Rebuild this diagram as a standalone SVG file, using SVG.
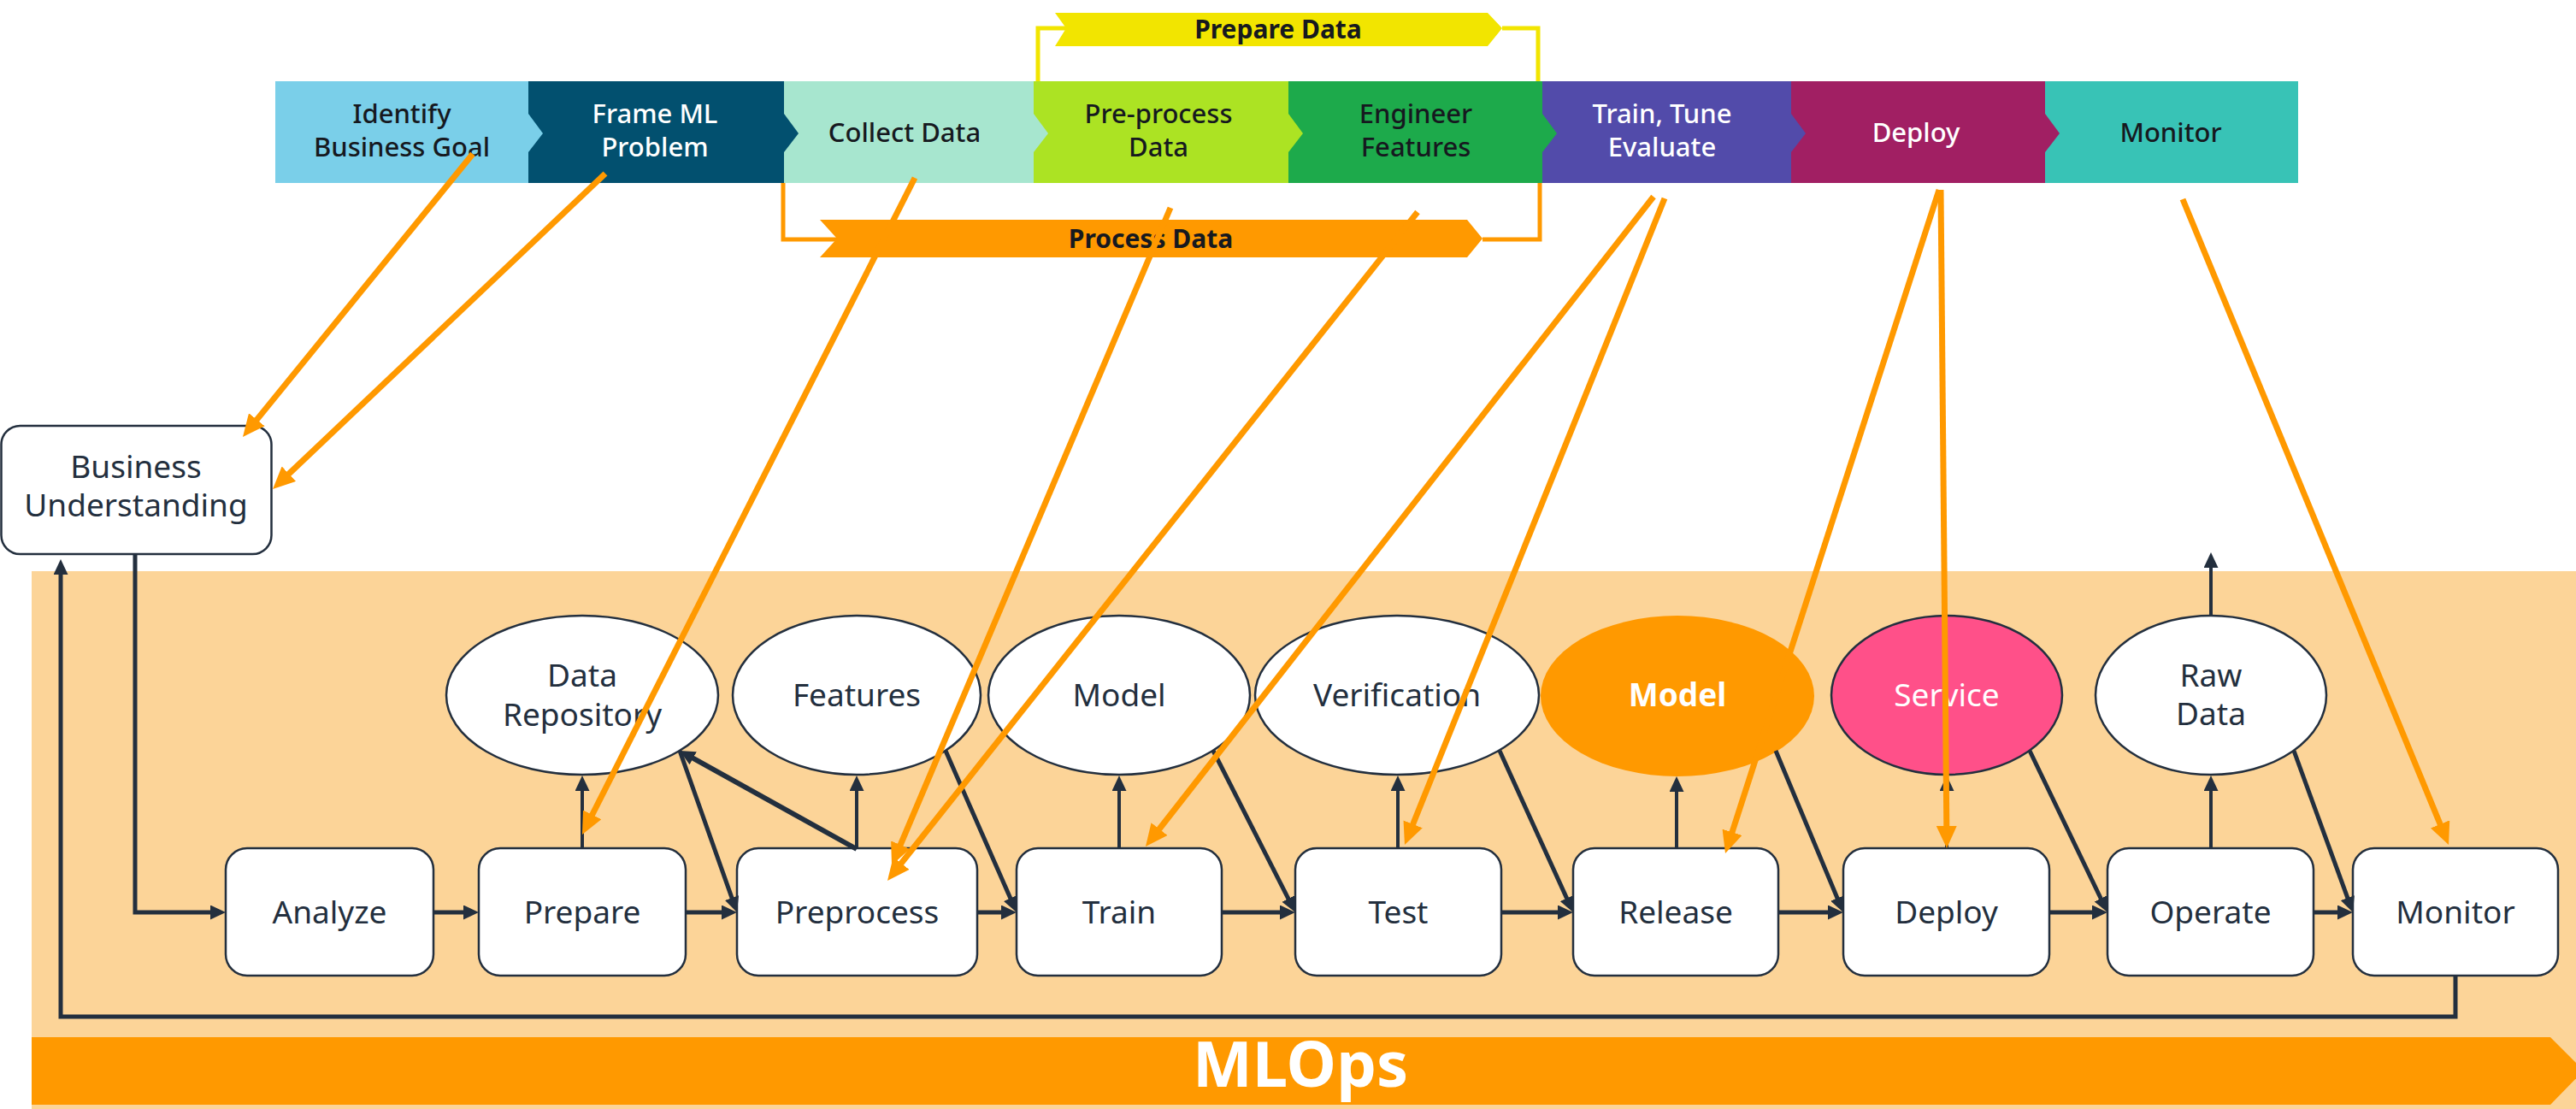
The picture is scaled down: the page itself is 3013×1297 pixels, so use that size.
<svg xmlns="http://www.w3.org/2000/svg" width="3013" height="1297" viewBox="0 0 3013 1297">
<style>
text{font-family:"Noto Sans","Open Sans","Liberation Sans",sans-serif}
.rt{font-size:31px;font-weight:500;text-anchor:middle}
.dk{fill:#16191F}
.wt{fill:#FFFFFF}
.bn{font-size:30px;font-weight:700;text-anchor:middle;fill:#16191F}
.box{fill:#FFFFFF;stroke:#232F3E;stroke-width:2.5}
.ell{fill:#FFFFFF;stroke:#232F3E;stroke-width:2.5}
.lb{font-size:37px;text-anchor:middle;fill:#232F3E}
.c{fill:none;stroke:#232F3E;stroke-width:5;marker-end:url(#ah)}
.cv{fill:none;stroke:#232F3E;stroke-width:4;marker-end:url(#ah)}
.o{fill:none;stroke:#FF9900;stroke-width:7;marker-end:url(#oh)}
</style>
<defs>
<marker id="ah" markerUnits="userSpaceOnUse" markerWidth="18" markerHeight="17" refX="8" refY="8.5" orient="auto"><path d="M0,0 L18,8.5 L0,17 z" fill="#232F3E"/></marker>
<marker id="oh" markerUnits="userSpaceOnUse" markerWidth="26" markerHeight="24" refX="12" refY="12" orient="auto"><path d="M0,0 L26,12 L0,24 z" fill="#FF9900"/></marker>
</defs>
<rect width="3013" height="1297" fill="#FFFFFF"/>

<!-- top ribbon -->
<g id="ribbon">
<rect x="322" y="95" width="296" height="119" fill="#7ACFE9"/>
<rect x="618" y="95" width="299" height="119" fill="#02506F"/>
<rect x="917" y="95" width="292" height="119" fill="#A7E6CF"/>
<rect x="1209" y="95" width="298" height="119" fill="#ACE323"/>
<rect x="1507" y="95" width="297" height="119" fill="#1DAA4B"/>
<rect x="1804" y="95" width="291" height="119" fill="#524BAA"/>
<rect x="2095" y="95" width="297" height="119" fill="#A11F63"/>
<rect x="2392" y="95" width="296" height="119" fill="#38C3B6"/>
<polygon points="618,133 635,156 618,178" fill="#7ACFE9"/>
<polygon points="917,133 934,156 917,178" fill="#02506F"/>
<polygon points="1209,133 1226,156 1209,178" fill="#A7E6CF"/>
<polygon points="1507,133 1524,156 1507,178" fill="#ACE323"/>
<polygon points="1804,133 1821,156 1804,178" fill="#1DAA4B"/>
<polygon points="2095,133 2112,156 2095,178" fill="#524BAA"/>
<polygon points="2392,133 2409,156 2392,178" fill="#A11F63"/>
<text class="rt dk" x="470" y="144">Identify</text>
<text class="rt dk" x="470" y="183">Business Goal</text>
<text class="rt wt" x="766" y="144">Frame ML</text>
<text class="rt wt" x="766" y="183">Problem</text>
<text class="rt dk" x="1058" y="166">Collect Data</text>
<text class="rt dk" x="1355" y="144">Pre-process</text>
<text class="rt dk" x="1355" y="183">Data</text>
<text class="rt dk" x="1656" y="144">Engineer</text>
<text class="rt dk" x="1656" y="183">Features</text>
<text class="rt wt" x="1944" y="144">Train, Tune</text>
<text class="rt wt" x="1944" y="183">Evaluate</text>
<text class="rt wt" x="2241" y="166">Deploy</text>
<text class="rt dk" x="2539" y="166">Monitor</text>
</g>

<g id="prepare-data">
<path d="M1214,95 V33 H1247 M1757,33 H1799 V95" fill="none" stroke="#F2E500" stroke-width="5"/>
<polygon points="1234,15 1740,15 1757,33 1740,54 1234,54 1247,33" fill="#F2E500"/>
<text class="bn" x="1495" y="45">Prepare Data</text>
</g>
<g id="process-data">
<path d="M916,214 V280 H979 M1734,280 H1801 V214" fill="none" stroke="#FF9900" stroke-width="5"/>
<polygon points="959,257 1716,257 1734,279 1716,301 959,301 979,279" fill="#FF9900"/>
<text class="bn" x="1346" y="290">Process Data</text>
</g>

<!-- MLOps band -->
<g id="mlops-band">
<rect x="37" y="668" width="2976" height="629" fill="#FCD498"/>
<polygon points="37,1213 2983,1213 3022,1252 2983,1292 37,1292" fill="#FF9900"/>
<text x="1521" y="1271" font-size="74" font-weight="700" fill="#FFFFFF" text-anchor="middle">MLOps</text>
</g>

<g id="business-understanding">
<rect class="box" x="1.5" y="498" width="316" height="150" rx="22"/>
<text class="lb" x="159" y="559">Business</text>
<text class="lb" x="159" y="604">Understanding</text>
</g>

<!-- process boxes -->
<g id="analyze"><rect class="box" x="264" y="992" width="243" height="149" rx="25"/><text class="lb" x="385.5" y="1080">Analyze</text></g>
<g id="prepare"><rect class="box" x="560" y="992" width="242" height="149" rx="25"/><text class="lb" x="681" y="1080">Prepare</text></g>
<g id="preprocess"><rect class="box" x="862" y="992" width="281" height="149" rx="25"/><text class="lb" x="1002.5" y="1080">Preprocess</text></g>
<g id="train"><rect class="box" x="1189" y="992" width="240" height="149" rx="25"/><text class="lb" x="1309" y="1080">Train</text></g>
<g id="test"><rect class="box" x="1515" y="992" width="241" height="149" rx="25"/><text class="lb" x="1635.5" y="1080">Test</text></g>
<g id="release"><rect class="box" x="1840" y="992" width="240" height="149" rx="25"/><text class="lb" x="1960" y="1080">Release</text></g>
<g id="deploy"><rect class="box" x="2156" y="992" width="241" height="149" rx="25"/><text class="lb" x="2276.5" y="1080">Deploy</text></g>
<g id="operate"><rect class="box" x="2465" y="992" width="241" height="149" rx="25"/><text class="lb" x="2585.5" y="1080">Operate</text></g>
<g id="monitor"><rect class="box" x="2752" y="992" width="240" height="149" rx="25"/><text class="lb" x="2872" y="1080">Monitor</text></g>

<!-- artifacts -->
<g id="data-repository"><ellipse class="ell" cx="681" cy="813" rx="159" ry="93"/><text class="lb" x="681" y="803">Data</text><text class="lb" x="681" y="849">Repository</text></g>
<g id="features"><ellipse class="ell" cx="1002" cy="813" rx="145" ry="93"/><text class="lb" x="1002" y="826">Features</text></g>
<g id="model"><ellipse class="ell" cx="1309" cy="813" rx="153" ry="93"/><text class="lb" x="1309" y="826">Model</text></g>
<g id="verification"><ellipse class="ell" cx="1634" cy="813" rx="166" ry="93"/><text class="lb" x="1634" y="826">Verification</text></g>
<g id="model-release"><ellipse cx="1962" cy="814" rx="160" ry="94" fill="#FF9900"/><text class="lb" x="1962" y="826" fill="#FFFFFF" font-weight="700" style="fill:#FFFFFF">Model</text></g>
<g id="service"><ellipse cx="2277" cy="813" rx="135" ry="93" fill="#FF5089" stroke="#232F3E" stroke-width="2.5"/><text class="lb" x="2277" y="826" style="fill:#FFFFFF">Service</text></g>
<g id="raw-data"><ellipse class="ell" cx="2586" cy="813" rx="135" ry="93"/><text class="lb" x="2586" y="803">Raw</text><text class="lb" x="2586" y="848">Data</text></g>

<!-- connectors -->
<g id="connectors">
<path class="c" d="M158,648 V1067 H254"/>
<path class="c" d="M2872,1141 V1189 H71 V664"/>
<path class="c" d="M507,1067 H550"/>
<path class="c" d="M802,1067 H852"/>
<path class="c" d="M1143,1067 H1179"/>
<path class="c" d="M1429,1067 H1505"/>
<path class="c" d="M1756,1067 H1830"/>
<path class="c" d="M2080,1067 H2146"/>
<path class="c" d="M2397,1067 H2455"/>
<path class="c" d="M2706,1067 H2742"/>
<path class="cv" d="M681,992 V917"/>
<path class="cv" d="M1002,992 V917"/>
<path class="cv" d="M1309,992 V917"/>
<path class="cv" d="M1635,992 V917"/>
<path class="cv" d="M1961,992 V918"/>
<path class="cv" d="M2277,992 V917"/>
<path class="cv" d="M2586,992 V917"/>
<path class="cv" d="M2586,720 V656"/>
<path class="c" d="M795,878 L858.7,1057.6"/>
<path class="c" d="M1106,878 L1185,1057.8"/>
<path class="c" d="M1419,878 L1510.5,1058.1"/>
<path class="c" d="M1754,878 L1835.9,1057.9"/>
<path class="c" d="M2077,878 L2152.1,1057.8"/>
<path class="c" d="M2374,878 L2460.7,1058"/>
<path class="c" d="M2683,878 L2748.6,1057.6"/>
<path class="c" d="M1002,993 L803.7,882.9" style="stroke-width:6"/>
</g>

<g id="lifecycle-mapping">
<path class="o" d="M553,180 L292.8,500.1"/>
<path class="o" d="M708,203 L329.2,562.4"/>
<path class="o" d="M1070,208 L687.3,963.5"/>
<path class="o" d="M1369,243 L1048.5,999.1"/>
<path class="o" d="M1658,248 L1046.7,1019"/>
<path class="o" d="M1934,230 L1348.6,979"/>
<path class="o" d="M1947,232 L1648.2,975"/>
<path class="o" d="M2268,222 L2022.3,984.7"/>
<path class="o" d="M2270,222 L2276.9,978"/>
<path class="o" d="M2553,233 L2858.7,975"/>
</g>
</svg>
